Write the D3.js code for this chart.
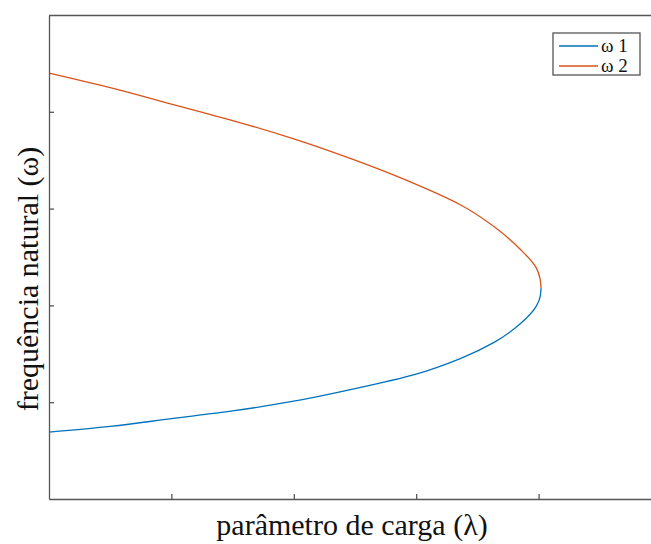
<!DOCTYPE html>
<html>
<head>
<meta charset="utf-8">
<script src="https://cdn.jsdelivr.net/npm/d3@7"></script>
<style>
  body { margin: 0; background: #fff; }
  text { font-family: "Liberation Serif", "Times New Roman", serif; }
</style>
</head>
<body>
<svg id="chart" width="651" height="544"></svg>
<script>
// DATA (arbitrary units)
const lambda1 = [0, 0.50, 1.00, 1.50, 2.00, 2.50, 3.00, 3.36, 3.64, 3.85, 3.98, 4.013, 4.02];
const omega1  = [0.69, 0.75, 0.83, 0.91, 1.01, 1.14, 1.29, 1.45, 1.62, 1.81, 1.99, 2.09, 2.18];
const lambda2 = [0, 0.50, 1.00, 1.50, 2.00, 2.50, 3.00, 3.36, 3.64, 3.85, 3.98, 4.013, 4.02];
const omega2  = [4.40, 4.25, 4.08, 3.91, 3.72, 3.50, 3.25, 3.04, 2.81, 2.58, 2.39, 2.27, 2.18];
const xTicks = [1, 2, 3, 4];
const yTicks = [1, 2, 3, 4];
const seriesNames = ["\u03c9 1", "\u03c9 2"];
const colors = ["#0072BD", "#D95319"];

const svg = d3.select("#chart");
const mLeft = 49, mTop = 15, mRight = 661, mBottom = 499;
const axisColor = "#555";

const x = d3.scaleLinear().domain([0, 5]).range([mLeft, mRight]);
const y = d3.scaleLinear().domain([0, 5]).range([mBottom, mTop]);

const series = [
  d3.zip(lambda1, omega1),
  d3.zip(lambda2, omega2)
];

const line = d3.line()
  .x(d => x(d[0]))
  .y(d => y(d[1]))
  .curve(d3.curveMonotoneY);

// curves
svg.append("g")
  .selectAll("path")
  .data(series)
  .join("path")
  .attr("d", line)
  .attr("fill", "none")
  .attr("stroke", (d, i) => colors[i])
  .attr("stroke-width", 1.3);

// axes, ticks pointing inward, no labels
svg.append("g")
  .attr("transform", `translate(0,${mBottom})`)
  .call(d3.axisBottom(x).tickValues(xTicks).tickSizeInner(-5).tickSizeOuter(0).tickFormat(""))
  .call(g => g.selectAll("line, path").attr("stroke", axisColor).attr("stroke-width", 1.3));

svg.append("g")
  .attr("transform", `translate(${mLeft},0)`)
  .call(d3.axisLeft(y).tickValues(yTicks).tickSizeInner(-5).tickSizeOuter(0).tickFormat(""))
  .call(g => g.selectAll("line, path").attr("stroke", axisColor).attr("stroke-width", 1.3));

// top border of the box
svg.append("line")
  .attr("x1", mLeft).attr("x2", mRight)
  .attr("y1", mTop + 0.5).attr("y2", mTop + 0.5)
  .attr("stroke", axisColor)
  .attr("stroke-width", 1.3);

// axis titles
svg.append("text")
  .attr("x", 352)
  .attr("y", 535)
  .attr("text-anchor", "middle")
  .attr("font-size", 30)
  .attr("fill", "#111")
  .text("parâmetro de carga (\u03bb)");

svg.append("text")
  .attr("transform", "translate(38,279) rotate(-90)")
  .attr("text-anchor", "middle")
  .attr("font-size", 30)
  .attr("fill", "#111")
  .text("frequência natural (\u03c9)");

// legend
const legend = svg.append("g").attr("transform", "translate(553,33)");
legend.append("rect")
  .attr("width", 87).attr("height", 42)
  .attr("fill", "#fff")
  .attr("stroke", axisColor)
  .attr("stroke-width", 1.3);
seriesNames.forEach((name, i) => {
  const ly = 13 + i * 20;
  legend.append("line")
    .attr("x1", 6).attr("x2", 45)
    .attr("y1", ly).attr("y2", ly)
    .attr("stroke", colors[i])
    .attr("stroke-width", 1.3);
  legend.append("text")
    .attr("x", 48).attr("y", ly + 6)
    .attr("font-size", 19)
    .attr("fill", "#111")
    .text(name);
});
</script>
</body>
</html>
